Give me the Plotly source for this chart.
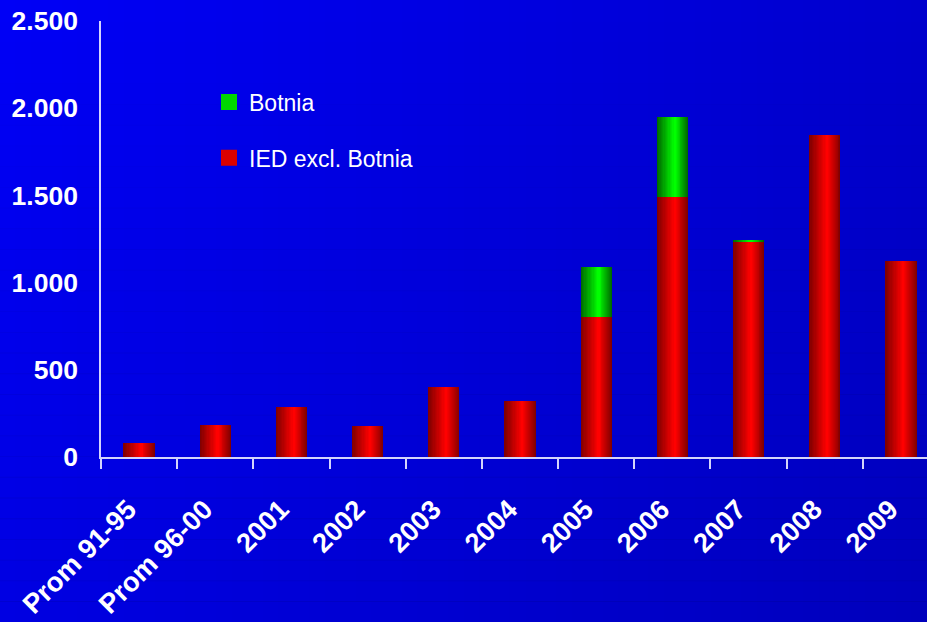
import plotly.graph_objects as go

categories = ["Prom 91-95", "Prom 96-00", "2001", "2002", "2003", "2004",
              "2005", "2006", "2007", "2008", "2009"]
ied_excl_botnia = [80, 183, 286, 178, 401, 321, 802, 1489, 1231, 1844, 1123]
botnia = [0, 0, 0, 0, 0, 0, 286, 458, 12, 0, 0]
y_ticks = [0, 500, 1000, 1500, 2000, 2500]

BAR_W = 0.41
PEAK = 0.58
N = 14

fig = go.Figure()


def lerp(a, b, t):
    return int(round(a + (b - a) * t))


def add_series(name, yvals, base, dark, bright):
    for k in range(N):
        t = k / N
        left = PEAK * t
        right = 1 - (1 - PEAK) * t
        w = (right - left) * BAR_W
        off = -BAR_W / 2 + left * BAR_W
        s = (k + 1) / N
        col = "rgb(%d,%d,%d)" % tuple(lerp(dark[i], bright[i], s) for i in range(3))
        fig.add_trace(go.Bar(
            x=categories, y=yvals, base=base, name=name,
            width=w, offset=off,
            marker=dict(color=col, line=dict(width=0)),
            showlegend=False,
            hoverinfo="skip" if k != N - 1 else None,
        ))


add_series("IED excl. Botnia", ied_excl_botnia, None, (120, 0, 0), (255, 0, 0))
add_series("Botnia", botnia, ied_excl_botnia, (0, 95, 0), (0, 255, 0))

# legend entries
for name, col, rank in [("Botnia", "rgb(0,215,0)", 1), ("IED excl. Botnia", "rgb(220,0,0)", 2)]:
    fig.add_trace(go.Scatter(
        x=[categories[0]], y=[None], mode="markers", name=name,
        marker=dict(symbol="square", size=16, color=col, line=dict(width=0)),
        legendgroup=name, legendrank=rank, showlegend=True, hoverinfo="skip",
    ))

# background gradient
shapes = []
FX0, FX1 = -101 / 826, 1.0
FY0, FY1 = (457 - 622) / 436.5, 457 / 436.5
NS = 60
for i in range(NS):
    t = (i + 0.5) / NS
    b = lerp(246, 205, t)
    shapes.append(dict(type="rect", xref="paper", yref="paper", layer="below",
                       x0=FX0 + (FX1 - FX0) * i / NS, x1=FX0 + (FX1 - FX0) * (i + 1) / NS + 0.002,
                       y0=FY0 - 0.01, y1=FY1 + 0.01, line=dict(width=0), fillcolor="rgb(0,0,%d)" % b))
NH = 30
for i in range(NH):
    t = (i + 0.5) / NH
    shapes.append(dict(type="rect", xref="paper", yref="paper", layer="below",
                       x0=FX0, x1=FX1,
                       y0=FY1 - (FY1 - FY0) * (i + 1) / NH - 0.002, y1=FY1 - (FY1 - FY0) * i / NH,
                       line=dict(width=0), fillcolor="rgba(0,0,0,%.3f)" % (0.08 * t)))

fig.update_layout(
    width=927, height=622,
    margin=dict(l=101, r=0, t=21, b=165, autoexpand=False),
    barmode="overlay",
    bargap=0,
    paper_bgcolor="#0000E6",
    plot_bgcolor="rgba(0,0,0,0)",
    separators=",.",
    shapes=shapes,
    font=dict(family="Liberation Sans, Arial", color="white"),
    showlegend=True,
    legend=dict(x=(209 - 101) / 826, y=(457 - 80) / 436.5, xanchor="left", yanchor="top",
                bgcolor="rgba(0,0,0,0)", font=dict(size=23, color="white"),
                tracegroupgap=23, traceorder="grouped", itemsizing="trace"),
)
fig.update_xaxes(
    type="category", range=[-0.5, 10.5 - 12 / 76.2], automargin=False,
    tickvals=categories, ticktext=[c + "\u00a0\u00a0" for c in categories],
    showline=True, linecolor="rgba(235,235,255,0.9)", linewidth=1.5,
    ticks="outside", tickson="boundaries", ticklen=10, tickcolor="rgba(235,235,255,0.9)",
    tickwidth=1.5, tickangle=-45, showgrid=False,
    tickfont=dict(size=27.3, family="Liberation Sans, Arial", color="white", weight="bold"),
    ticklabelstandoff=13,
)
fig.update_yaxes(
    range=[0, 2500], tickvals=y_ticks, tickformat=",", automargin=False,
    showline=True, linecolor="rgba(235,235,255,0.9)", linewidth=1.5,
    ticks="", showgrid=False, zeroline=False,
    tickfont=dict(size=26.5, family="Liberation Sans, Arial", color="white", weight="bold"),
    ticklabelstandoff=16,
)

fig.write_html("out.html", config={"displayModeBar": False},
               post_script="document.body.style.margin='0';document.body.style.overflow='hidden';")
